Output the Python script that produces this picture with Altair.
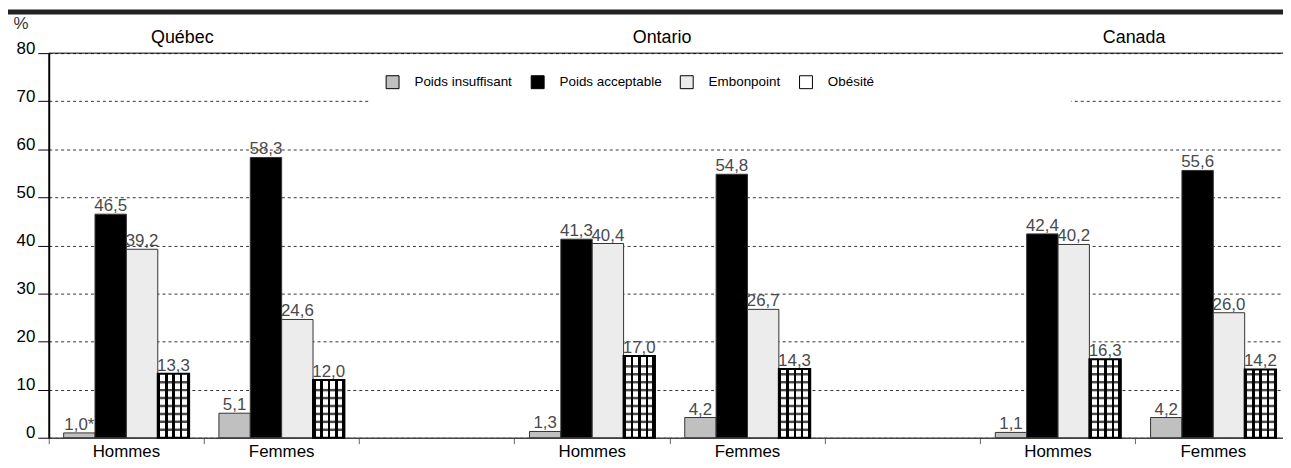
import altair as alt
import pandas as pd

# ---------------- data ----------------
slot_keys = ["Q_H", "Q_F", "gap1", "O_H", "O_F", "gap2", "C_H", "C_F"]
bar_keys = ["Q_H", "Q_F", "O_H", "O_F", "C_H", "C_F"]
series = ["Poids insuffisant", "Poids acceptable", "Embonpoint", "Obésité"]
regions = ["Québec", "Ontario", "Canada"]
region_keys = ["Q_H", "O_H", "C_H"]

insuffisant = [1.0, 5.1, 1.3, 4.2, 1.1, 4.2]
acceptable = [46.5, 58.3, 41.3, 54.8, 42.4, 55.6]
embonpoint = [39.2, 24.6, 40.4, 26.7, 40.2, 26.0]
obesite = [13.3, 12.0, 17.0, 14.3, 16.3, 14.2]
insuffisant_flag = ["*", "", "", "", "", ""]

y_ticks = [0, 10, 20, 30, 40, 50, 60, 70, 80]

rows = []
for i, key in enumerate(bar_keys):
    for s, vals in zip(series, [insuffisant, acceptable, embonpoint, obesite]):
        v = vals[i]
        lab = f"{v:.1f}".replace(".", ",")
        if s == "Poids insuffisant":
            lab += insuffisant_flag[i]
        rows.append({"key": key, "series": s, "value": v, "label": lab})
df = pd.DataFrame(rows)

# ---------------- styles ----------------
FONT = "Liberation Sans"
fills = ["#c0c0c0", "#000000", "#ececec", "#ffffff"]

x_enc = alt.X(
    "key:N",
    scale=alt.Scale(domain=slot_keys, range=[0, 1250], paddingInner=0, paddingOuter=0),
    axis=alt.Axis(
        title=None, bandPosition=0, labelAngle=0,
        labelExpr="indexof(datum.value, '_H') >= 0 ? 'Hommes' : (indexof(datum.value, '_F') >= 0 ? 'Femmes' : '')",
        labelOverlap=False, labelBound=False, labelFont=FONT, labelFontSize=17,
        labelColor="black", labelPadding=0, labelBaseline="top",
        tickSize=6, tickColor="#666", tickWidth=1,
        domainColor="#444", domainWidth=1.5, grid=False,
    ),
)
xo_enc = alt.XOffset(
    "series:N", scale=alt.Scale(domain=series, paddingOuter=0.475, paddingInner=0)
)
y_enc = alt.Y(
    "value:Q",
    scale=alt.Scale(domain=[0, 80], nice=False),
    axis=alt.Axis(
        title=None, values=y_ticks, grid=True, gridDash=[3, 3], gridColor="black",
        gridWidth=0.8, tickSize=11, tickColor="black", tickWidth=1,
        domainColor="black", domainWidth=2, labelFont=FONT, labelFontSize=17,
        labelColor="black", labelBaseline="alphabetic", labelPadding=3,
    ),
)
color_enc = alt.Color(
    "series:N",
    scale=alt.Scale(domain=series, range=fills),
    legend=alt.Legend(
        orient="none", legendX=339, legendY=22, direction="horizontal", title=None,
        symbolType="square", symbolSize=169, symbolStrokeColor="black",
        symbolStrokeWidth=1, symbolOpacity=1, labelFont=FONT, labelFontSize=13.5,
        labelColor="black", labelOffset=15, columnPadding=16, padding=0,
    ),
)

base = alt.Chart(df)

# white patch interrupting the 70 gridline behind the legend
patch = alt.Chart(pd.DataFrame({"a": [0]})).mark_rect(fill="white").encode(
    x=alt.value(322), x2=alt.value(1029), y=alt.value(42), y2=alt.value(55)
)

top_line = alt.Chart(pd.DataFrame({"a": [0]})).mark_rule(color="black", strokeWidth=1).encode(
    y=alt.datum(80)
)

bars = base.mark_bar(stroke="#333", strokeWidth=1).encode(
    x=x_enc, xOffset=xo_enc, y=y_enc, color=color_enc
)

# obésité grid pattern: vertical stripes via gradient, horizontal lines via ticks
black_bands = [(0.0, 0.08), (0.235, 0.315), (0.47, 0.55), (0.705, 0.785), (0.92, 1.0)]
full = []
prev_end = None
for a, b in black_bands:
    if prev_end is not None:
        full += [{"offset": prev_end, "color": "white"}, {"offset": a, "color": "white"}]
    full += [{"offset": a, "color": "black"}, {"offset": b, "color": "black"}]
    prev_end = b
grad = {"gradient": "linear", "x1": 0, "y1": 0, "x2": 1, "y2": 0, "stops": full}

obes = base.transform_filter(alt.datum.series == "Obésité").mark_bar(
    fill=grad, stroke="black", strokeWidth=2
).encode(x="key:N", xOffset="series:N", y="value:Q")

obes_lines = base.transform_filter(alt.datum.series == "Obésité").transform_calculate(
    row="sequence(1.65, datum.value - 0.6, 1.65)"
).transform_flatten(["row"]).mark_tick(
    orient="horizontal", thickness=2.5, size=31, color="black"
).encode(x="key:N", xOffset="series:N", y="row:Q")

labels = base.mark_text(
    font=FONT, fontSize=17, color="#4a4a4a", baseline="alphabetic", dy=-3
).encode(x="key:N", xOffset="series:N", y="value:Q", text="label:N")

title_layers = []
for key, name, bp in zip(region_keys, regions, [0.86, 0.95, 0.99]):
    title_layers.append(
        alt.Chart(pd.DataFrame({"key": [key], "t": [name]})).mark_text(
            font=FONT, fontSize=18, color="black", baseline="middle"
        ).encode(x=alt.X("key:N", bandPosition=bp), y=alt.value(-15), text="t:N")
    )

pct = alt.Chart(pd.DataFrame({"t": ["%"]})).mark_text(
    font=FONT, fontSize=17, color="#333", baseline="middle"
).encode(x=alt.value(-28), y=alt.value(-29), text="t:N")

top_bar = alt.Chart(pd.DataFrame({"a": [0]})).mark_rule(color="#222", strokeWidth=5).encode(
    x=alt.value(-41), x2=alt.value(1250), y=alt.value(-41.5)
)

chart = alt.layer(
    patch, bars, obes, obes_lines, labels, top_line, *title_layers, pct, top_bar
).properties(
    width=1242, height=387,
    autosize=alt.AutoSizeParams(type="none"),
    padding={"left": 41, "top": 44, "right": 0, "bottom": 21},
    background="white",
).configure_view(stroke=None)

chart.save("out.html", embed_options={"renderer": "svg", "actions": False})
